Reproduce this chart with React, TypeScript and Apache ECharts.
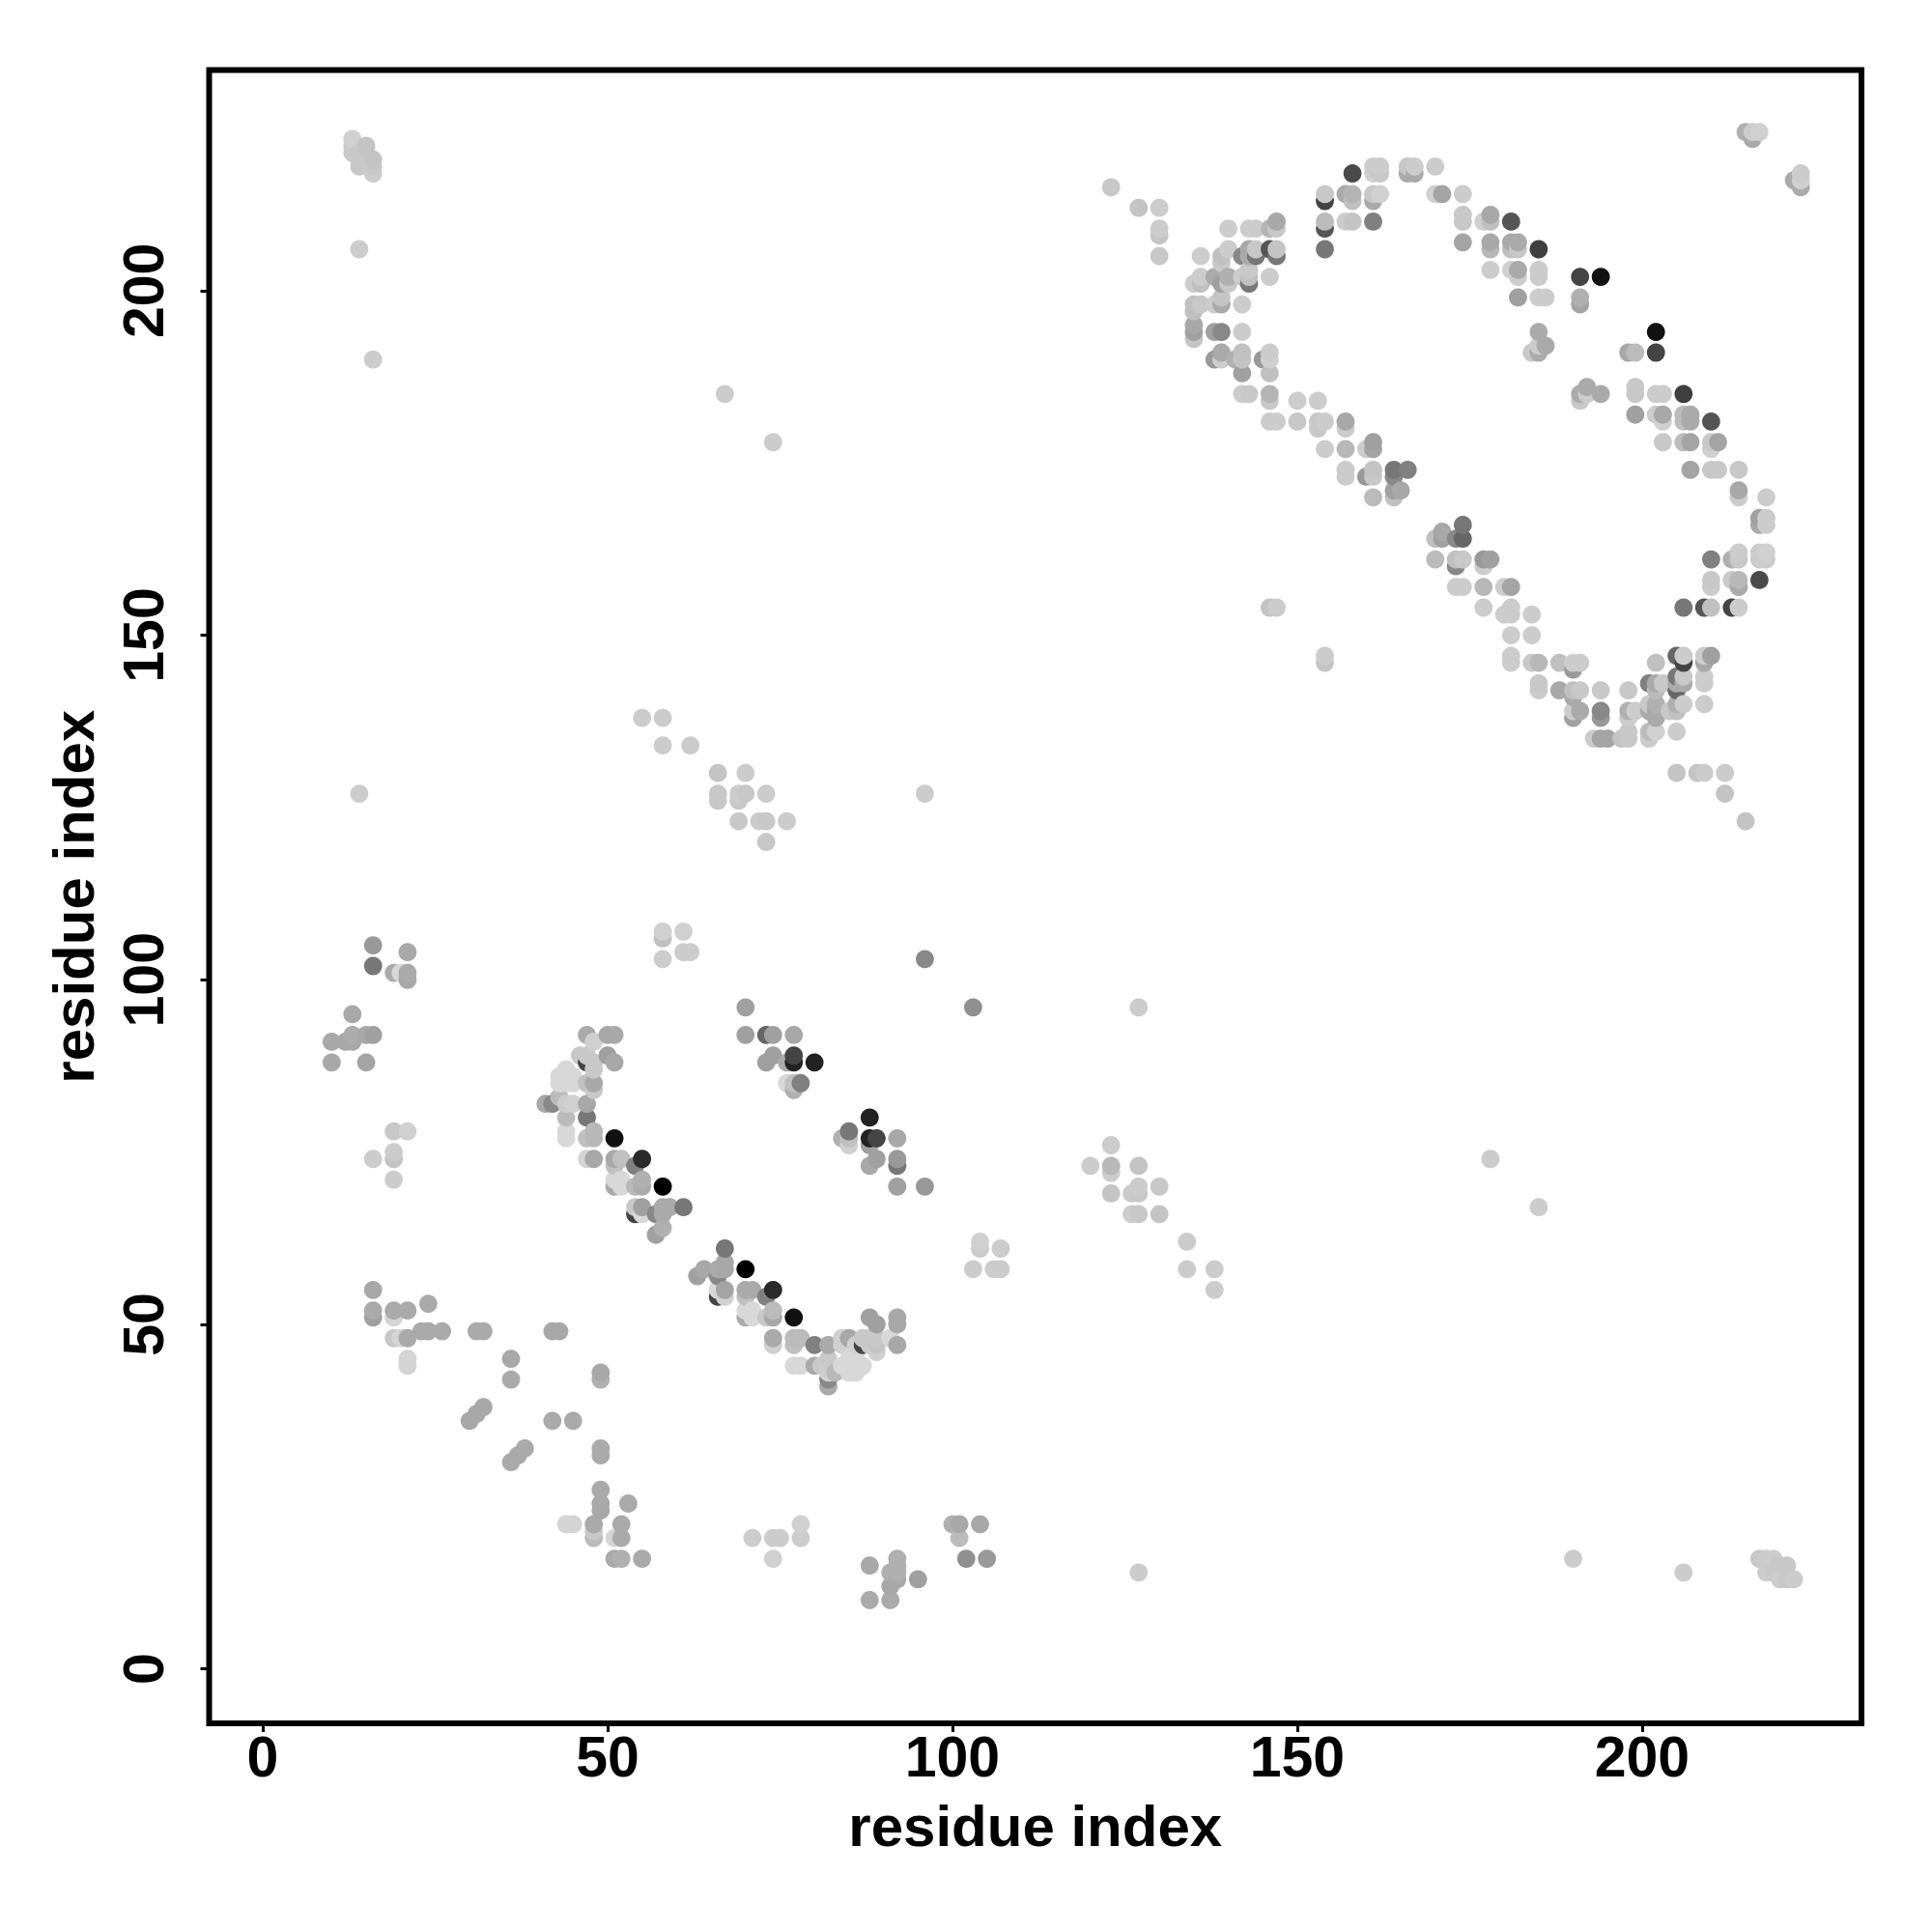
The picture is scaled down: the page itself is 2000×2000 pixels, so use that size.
import React, { useEffect, useRef } from "react";
import * as echarts from "echarts";

type P = [number, number, number];

const tickValues = [0, 50, 100, 150, 200];
const axisTitle = "residue index";

// [residue x, residue y, grey level]
const loopUpperLeft: P[] = [
  [123,215,0xc8],[127,212,0xc4],[130,212,0xcc],[130,209,0xcc],[130,208,0xc4],[130,205,0xc8],
  [140,209,0xcc],[143,209,0xcc],[144,209,0xcc],[146,209,0xb5],[147,210,0xa8],[147,209,0xc8],
  [136,205,0xcc],[139,205,0xc0],[140,206,0xcc],[139,204,0xc8],[142,205,0x88],[143,206,0xa8],[143,205,0xaa],[144,205,0x77],[144,206,0xc8],
  [146,206,0x55],[147,205,0x77],[147,206,0xc4],[146,202,0xcc],
  [135,201,0xcc],[136,202,0xcc],[136,201,0xc0],[138,202,0xaa],[139,201,0xa0],[140,202,0xb0],[140,201,0xc8],[142,202,0xcc],[143,203,0xc8],[143,202,0xc0],[143,201,0x77],
  [135,198,0xc0],[136,198,0xc8],[138,198,0xcc],[139,198,0xaa],[139,199,0xc4],[142,198,0xcc],[135,197,0xc0],
  [135,195,0xa8],[135,194,0xa0],[135,193,0xc4],[138,194,0xa0],[139,194,0x88],[142,194,0xcc],
  [138,190,0x99],[139,191,0xaa],[139,190,0xcc],[141,190,0xb0],[142,191,0xc0],[142,190,0xc4],[142,188,0xa0],
  [145,190,0x99],[146,191,0xcc],[146,190,0xd0],[146,188,0xc0],
  [142,185,0xcc],[143,185,0xc8],[146,185,0xb4],[146,184,0xc8],[150,184,0xcc],[153,184,0xcc],
  [146,181,0xcc],[147,181,0xcc],[150,181,0xc8],[153,181,0xc8],[154,181,0xcc],[153,180,0xc8],[157,181,0xa8],[157,180,0xcc],
  [154,177,0xcc],[157,177,0xb8],[160,177,0xcc],[161,178,0xa0],[161,177,0xa4],
  [157,174,0xcc],[157,173,0xcc],[160,173,0x99],[161,174,0xc4],[161,173,0xc8],[164,174,0x77],[166,174,0x80],[164,173,0x88],
  [164,171,0xa0],[165,171,0xa8],[164,170,0xc0],[161,170,0xbb],
];

const loopUpperTop: P[] = [
  [154,214,0xc8],[154,213,0x44],[154,210,0xbb],[154,209,0x55],[154,206,0x77],
  [157,214,0xaa],[158,214,0xb4],[158,213,0xc0],[158,217,0x4a],[157,210,0xcc],[158,210,0xc4],[161,210,0x80],
  [161,214,0xc8],[161,213,0xaa],[162,214,0xd0],[161,218,0xcc],[162,218,0xcc],[161,217,0xd0],[162,217,0xc8],
  [166,218,0xc8],[167,218,0xcc],[166,217,0xaa],[167,217,0xaa],[170,218,0xcc],
  [170,214,0xd0],[171,214,0xa4],[174,214,0xcc],[174,211,0xc8],[174,210,0xc8],[174,207,0xa4],
  [177,210,0xd0],[178,211,0xa8],[178,210,0xc0],[178,207,0xa8],[178,206,0xb8],[178,203,0xcc],
  [181,210,0x55],[181,207,0xaa],[182,207,0xaa],[181,206,0xc0],[182,206,0xc8],[185,206,0x3f],
  [181,203,0xd0],[182,203,0xaa],[182,202,0xcc],[185,203,0xcc],[185,202,0xcc],[182,199,0xa0],[185,199,0xcc],[186,199,0xcc],
  [191,202,0x44],[194,202,0x11],[191,199,0xb0],[191,198,0xa4],
  [185,194,0xaa],[186,192,0xaa],[184,191,0xc8],[185,191,0xaa],[185,192,0xcc],
  [202,194,0x11],[202,191,0x44],[198,191,0xa8],[199,191,0xbb],
  [191,185,0xaa],[191,184,0xc8],[192,186,0xaa],[192,185,0xcc],[194,185,0xaa],
  [199,186,0xc8],[199,185,0xc8],[202,185,0xcc],[203,185,0xcc],[206,185,0x3f],
  [199,182,0xa0],[202,182,0xcc],[203,182,0xa8],[203,181,0xd0],[206,182,0xbb],[207,182,0xaa],[206,181,0xc0],[207,181,0xaa],[210,181,0x55],
  [203,178,0xc8],[206,178,0xbb],[207,178,0xa4],[210,178,0xc8],[211,178,0xa4],[210,177,0xd0],
  [207,174,0xa4],[210,174,0xc8],[211,174,0xc8],[214,174,0xc8],
  [215,223,0xb0],[216,223,0xcc],[217,223,0xd0],[216,222,0xaa],
  [222,216,0xaa],[223,217,0xcc],[223,216,0xd0],[223,215,0xaa],
];

const loopUpperRight: P[] = [
  [214,171,0xa8],[214,170,0xcc],[218,170,0xcc],[217,167,0xa0],[217,166,0xaa],[218,167,0xcc],[218,166,0xcc],
  [210,161,0x80],[213,161,0xb0],[214,162,0xcc],[214,161,0xc8],[217,162,0xcc],[217,161,0xcc],[218,162,0xd0],[218,161,0xcc],
  [210,158,0xc8],[210,157,0xcc],[213,158,0xc8],[214,158,0xb8],[214,157,0xaa],[217,158,0x4a],
  [206,154,0x77],[209,154,0x55],[210,154,0xc0],[213,154,0x44],[214,154,0xcc],
  [205,147,0x66],[206,147,0xcc],[206,146,0x44],[209,147,0xcc],[210,147,0xa0],[209,146,0xa8],
  [209,144,0xcc],[209,143,0xcc],[209,140,0xcc],[202,146,0xc0],
  [205,144,0x77],[206,144,0xc8],[206,143,0xaa],[205,143,0xaa],[205,142,0x66],
  [201,143,0x80],[202,143,0xaa],[203,143,0xc8],[202,142,0xbb],
  [205,130,0xc4],[208,130,0xc4],[209,130,0xcc],[212,130,0xcc],[212,127,0xc4],[215,123,0xc4],
];

const loopUpperBottom: P[] = [
  [174,166,0x77],[174,164,0x66],[173,164,0x88],[171,165,0xa8],[170,164,0xc0],[171,164,0xa0],
  [170,161,0xbb],[173,161,0xc0],[174,161,0xc8],[173,160,0x88],[177,161,0x99],[178,161,0xa0],[177,160,0xcc],
  [173,157,0xcc],[174,157,0xcc],[177,157,0xb8],[180,157,0xcc],[181,157,0xa4],
  [177,154,0xcc],[180,153,0xcc],[181,154,0xcc],[181,153,0xcc],[184,153,0xcc],[181,150,0xcc],[184,150,0xcc],
  [181,147,0xcc],[181,146,0xcc],[184,146,0xc8],[185,146,0xb8],[188,146,0xc0],[190,146,0xcc],[191,146,0xcc],[190,145,0x99],
  [185,143,0xc8],[185,142,0xcc],[188,142,0xa8],[190,142,0xc0],[191,142,0xc8],[190,141,0xaa],[194,142,0xc8],[198,142,0xc8],
  [190,139,0xcc],[191,139,0xaa],[190,138,0xa0],[194,139,0x88],[194,138,0x99],
  [198,139,0xb0],[199,139,0xcc],[198,138,0xcc],[201,140,0xc8],[202,140,0xb0],[202,139,0xaa],[201,139,0xaa],[202,138,0xaa],
  [204,139,0xc8],[205,140,0xb0],[205,139,0xc0],[206,140,0xcc],
  [193,135,0xcc],[194,135,0xa4],[195,135,0xa4],[197,135,0xc4],[198,136,0xc8],[198,135,0xc8],
  [201,136,0xbb],[201,135,0xcc],[202,136,0xd0],[205,136,0xcc],
  [146,154,0xc4],[147,154,0xcc],[154,147,0xcc],[154,146,0xc4],
];

const strandLowerLeft: P[] = [
  [47,92,0xaa],[50,92,0xa8],[51,92,0xa8],[48,91,0xd0],
  [46,89,0xc8],[47,89,0xc8],[50,89,0xa0],[51,88,0xa8],[47,88,0x44],[48,88,0xc8],[48,87,0xc8],
  [44,87,0xd8],[43,86,0xd8],[44,86,0xd8],[45,86,0xd8],[43,85,0xd8],[44,85,0xd8],[45,85,0xd8],[47,85,0xc0],[48,85,0xa8],[48,84,0xc8],
  [41,82,0xa8],[42,82,0x88],[43,83,0xbb],[44,82,0xcc],[45,82,0xd0],[47,82,0xa8],[44,80,0xbb],[47,80,0x77],
  [44,78,0xd8],[44,77,0xd8],[47,77,0xc0],[48,78,0xb8],[48,77,0xb8],[51,77,0x11],
  [47,74,0xd4],[48,74,0xa8],[51,74,0xa8],[52,74,0xc0],[51,73,0xc0],[55,74,0x2a],[54,73,0x80],
  [55,71,0xb0],[54,70,0xb8],[55,70,0xaa],[51,71,0xd8],[52,71,0xd8],[51,70,0xaa],[52,70,0xd8],[58,70,0x00],
  [54,67,0xc8],[55,67,0xa0],[58,67,0xaa],[59,67,0xaa],[61,67,0x77],[54,66,0x44],[55,66,0xd8],[57,66,0x88],[58,66,0xaa],[58,64,0xb0],[57,63,0xa0],
  [67,61,0x77],[67,59,0xa8],[67,58,0xa8],[66,58,0xaa],[64,58,0xa8],[63,57,0xa0],[66,57,0x88],[70,58,0x00],
  [66,55,0xd8],[67,55,0xa4],[66,54,0x44],[67,54,0xd0],[70,55,0xaa],[71,55,0xaa],[70,54,0xc0],[74,55,0x2a],[73,54,0x80],
  [70,52,0xd8],[71,52,0xd8],[70,51,0xaa],[71,51,0xd8],[73,51,0xc8],[74,52,0xbb],[74,51,0xa8],[77,51,0x11],
];

const strandLowerEnd: P[] = [
  [74,48,0xaa],[74,47,0xd0],[77,48,0xbb],[78,48,0xbb],[77,47,0xc0],[80,47,0x80],[82,47,0xaa],
  [84,48,0xd0],[85,48,0xa8],[84,47,0xd0],[87,48,0xc8],[88,51,0xa0],[89,50,0xa0],[88,48,0xc8],[88,47,0xc8],[89,48,0xc8],[89,47,0xc4],[89,46,0xd0],[87,47,0x44],[86,47,0xd0],
  [91,48,0xd8],[92,51,0xa8],[92,50,0xa8],[92,47,0xa8],
  [77,44,0xd8],[78,44,0xd8],[80,44,0xaa],[81,44,0xc8],[82,45,0xc8],[82,44,0xcc],[82,43,0xd0],[83,43,0xb8],[82,42,0x88],[82,41,0xaa],
  [84,44,0xd8],[85,45,0xd8],[86,45,0xd8],[85,44,0xd8],[86,44,0xd8],[87,44,0xd8],[85,43,0xd8],[86,43,0xd8],[86,46,0xd8],
];

const strandLowerRight: P[] = [
  [70,96,0xa0],[70,92,0xa0],[73,92,0x66],[74,92,0xa0],[77,92,0xa8],
  [74,89,0xa0],[73,88,0xa0],[76,88,0xaa],[77,89,0x44],[77,88,0x22],[80,88,0x22],
  [76,85,0xd8],[77,85,0xc0],[77,84,0xb0],[78,85,0x80],
  [88,80,0x22],[85,78,0x77],[84,77,0xb0],[85,77,0xc0],[85,76,0xd0],[88,77,0x22],[89,77,0x44],[92,77,0xa8],[88,76,0xa0],
  [89,74,0xa0],[88,73,0xa8],[92,74,0x99],[92,73,0x77],[92,70,0xa0],[96,70,0x99],
];

const clusterLeft: P[] = [
  [16,105,0x99],[16,102,0x77],[21,104,0xa8],[19,101,0xaa],[20,101,0xd8],[21,101,0xaa],[21,100,0xa8],
  [13,95,0xa8],[13,92,0xac],[15,92,0xa8],[16,92,0xa0],[10,91,0xa8],[12,91,0xa8],[13,91,0xa8],[10,88,0xa8],[15,88,0xa4],
  [19,78,0xc8],[21,78,0xd0],[16,74,0xcc],[19,75,0xcc],[19,74,0xc4],[19,71,0xcc],
  [16,55,0xa8],[16,52,0xaa],[16,51,0xa0],[19,52,0xaa],[19,51,0xd4],[21,52,0xaa],[24,53,0xaa],
  [19,48,0xc8],[20,48,0xd4],[21,48,0xaa],[23,49,0xaa],[24,49,0xaa],[26,49,0xaa],[31,49,0xaa],[32,49,0xaa],[42,49,0xa8],[43,49,0xa8],
  [21,45,0xd4],[21,44,0xd4],[36,45,0xa8],[36,42,0xaa],[49,43,0xa8],[49,42,0xb0],
  [30,36,0xa8],[31,37,0xa8],[32,38,0xa8],[42,36,0xaa],[45,36,0xaa],
  [36,30,0xaa],[37,31,0xaa],[38,32,0xaa],[49,32,0xaa],[49,31,0xaa],
  [49,26,0xaa],[49,24,0xa8],[49,23,0xa8],[53,24,0xaa],
  [44,21,0xd4],[45,21,0xd4],[48,21,0xaa],[52,21,0xaa],[48,20,0xc8],[48,19,0xbb],[51,19,0xd4],[52,19,0xaa],[51,16,0xaa],[52,16,0xb0],[55,16,0xaa],
];

const clusterTopLeft: P[] = [
  [13,222,0xd0],[15,221,0xc4],[13,221,0xc8],[13,220,0xc8],[14,220,0xc8],[15,220,0xc8],[14,219,0xc8],[15,219,0xc8],[16,219,0xc4],
  [14,218,0xc8],[16,218,0xc8],[16,217,0xcc],[14,206,0xcc],[16,190,0xcc],[14,127,0xcc],
];

const clusterMiddle: P[] = [
  [55,138,0xcc],[58,138,0xcc],[58,134,0xcc],[62,134,0xcc],[67,185,0xcc],[74,178,0xcc],
  [66,130,0xc4],[70,130,0xcc],[66,127,0xc8],[66,126,0xc8],[69,127,0xcc],[70,127,0xc8],[69,126,0xc8],[73,127,0xcc],
  [69,123,0xc8],[72,123,0xcc],[73,123,0xc8],[76,123,0xcc],[73,120,0xc8],[96,127,0xcc],
  [58,107,0xd0],[58,106,0xc0],[58,103,0xcc],[61,107,0xd0],[61,104,0xcc],[62,104,0xcc],
  [96,103,0x88],[103,96,0x90],[127,96,0xcc],
];

const clusterCentre: P[] = [
  [120,73,0xcc],[123,76,0xcc],[123,73,0xb8],[123,72,0xcc],[123,69,0xc4],[126,69,0xcc],[127,73,0xc4],[127,70,0xcc],[127,69,0xc8],[130,70,0xc8],
  [126,66,0xcc],[127,66,0xc8],[130,66,0xc4],[134,62,0xcc],[134,58,0xcc],[138,58,0xcc],[138,55,0xcc],
  [104,62,0xd0],[104,61,0xcc],[107,61,0xcc],[103,58,0xcc],[106,58,0xcc],[107,58,0xcc],[178,74,0xcc],[185,67,0xcc],
];

const clusterBottom: P[] = [
  [71,19,0xcc],[74,19,0xcc],[75,19,0xcc],[74,16,0xd0],[78,21,0xd0],[78,19,0xcc],
  [100,21,0xb0],[101,21,0xa8],[104,21,0xa8],[101,19,0xbb],[102,16,0x90],[105,16,0x99],
  [88,15,0xa8],[92,16,0xb0],[92,15,0xb0],[91,14,0xb0],[92,14,0xb0],[91,12,0xa8],[92,13,0xa8],[95,13,0xa0],[88,10,0xaa],[91,10,0xaa],
  [127,14,0xcc],[190,16,0xcc],[206,14,0xcc],
  [217,16,0xc8],[218,16,0xcc],[219,16,0xcc],[218,14,0xcc],[219,14,0xc8],[220,15,0xc8],[221,15,0xc8],[220,13,0xcc],[221,13,0xc8],[222,13,0xcc],
];

const contactPoints: P[] = [
  ...loopUpperLeft, ...loopUpperTop, ...loopUpperRight, ...loopUpperBottom,
  ...strandLowerLeft, ...strandLowerEnd, ...strandLowerRight,
  ...clusterLeft, ...clusterTopLeft, ...clusterMiddle, ...clusterCentre, ...clusterBottom,
].sort((a, b) => a[0] - b[0] || a[1] - b[1]);

const FONT = "'Liberation Sans', Arial, sans-serif";

export default function App() {
  const ref = useRef<HTMLDivElement>(null);
  useEffect(() => {
    const chart = echarts.init(ref.current!, undefined, { renderer: "svg" });
    const common = {
      type: "value" as const,
      splitLine: { show: false },
      axisLine: { show: false, onZero: false },
      name: axisTitle,
      nameLocation: "middle" as const,
      nameTextStyle: { fontFamily: FONT, fontWeight: "bold" as const, fontSize: 60, color: "#000" },
      axisTick: { show: true, length: 9, customValues: tickValues, lineStyle: { color: "#000", width: 3 } },
    };
    chart.setOption({
      animation: false,
      backgroundColor: "#fff",
      grid: { left: 216.5, right: 73, top: 72.5, bottom: 216, show: true, borderColor: "#000", borderWidth: 6, backgroundColor: "transparent" },
      xAxis: {
        ...common,
        min: -7.77,
        max: 231.8,
        nameGap: 76,
        axisLabel: { customValues: tickValues, margin: 5, fontFamily: FONT, fontWeight: "bold", fontSize: 59, color: "#000", formatter: (v: number) => String(v) },
      },
      yAxis: {
        ...common,
        min: -7.89,
        max: 232,
        nameGap: 110,
        nameRotate: 90,
        axisLabel: { customValues: tickValues, rotate: 90, margin: 38, fontFamily: FONT, fontWeight: "bold", fontSize: 59, color: "#000", formatter: (v: number) => String(v) },
      },
      series: [
        {
          type: "scatter",
          symbol: "circle",
          symbolSize: 18.8,
          data: contactPoints.map((p) => ({ value: [p[0], p[1]], itemStyle: { color: `rgb(${p[2]},${p[2]},${p[2]})` } })),
          itemStyle: { opacity: 1, borderWidth: 0 },
        },
      ],
    });
    return () => chart.dispose();
  }, []);
  return <div ref={ref} style={{ position: "absolute", left: 0, top: 0, width: 2000, height: 2000 }} />;
}
